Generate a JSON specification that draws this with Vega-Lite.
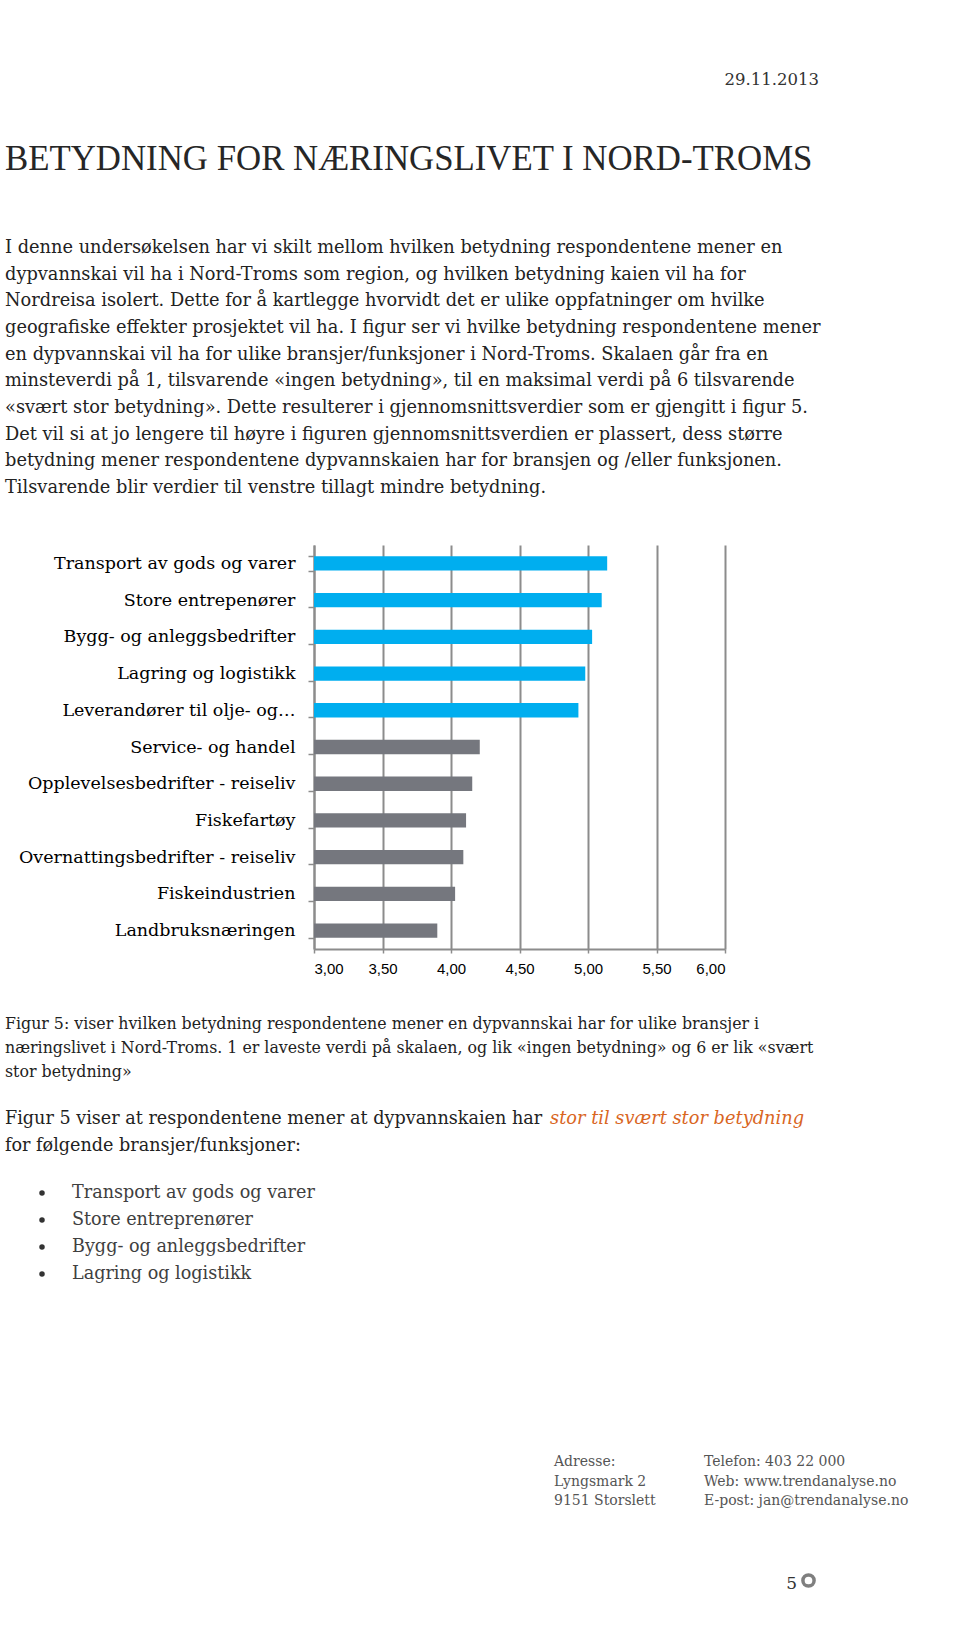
{
  "$schema": "https://vega.github.io/schema/vega-lite/v6.json",
  "background": "white",
  "padding": 0,
  "spacing": 0,
  "config": {"view": {"stroke": null}, "font": "DejaVu Serif"},
  "vconcat": [
    {
      "width": 646,
      "height": 200,
      "data": {"values": [
        {"felt": "dato", "tekst": "29.11.2013"},
        {"felt": "tittel", "tekst": "BETYDNING FOR NÆRINGSLIVET I NORD-TROMS"}
      ]},
      "encoding": {
        "x": {"field": "felt", "type": "nominal", "axis": null, "scale": {"type": "point", "domain": ["tittel", "dato"], "range": [-309, 505], "padding": 0}},
        "y": {"field": "felt", "type": "nominal", "axis": null, "scale": {"type": "point", "domain": ["dato", "tittel"], "range": [80, 160], "padding": 0}},
        "text": {"field": "tekst"}
      },
      "layer": [
        {"transform": [{"filter": "datum.felt === 'dato'"}],
         "mark": {"type": "text", "align": "right", "baseline": "middle", "font": "DejaVu Serif", "fontSize": 16.5, "color": "#333333"}},
        {"transform": [{"filter": "datum.felt === 'tittel'"}],
         "mark": {"type": "text", "align": "left", "baseline": "middle", "font": "Liberation Serif", "fontSize": 34.8, "color": "#262626"}}
      ]
    },
    {
      "width": 646,
      "height": 336,
      "data": {"values": [
        {"linje": 1, "blokk": "ingress", "tekst": "I denne undersøkelsen har vi skilt mellom hvilken betydning respondentene mener en"},
        {"linje": 2, "blokk": "ingress", "tekst": "dypvannskai vil ha i Nord-Troms som region, og hvilken betydning kaien vil ha for"},
        {"linje": 3, "blokk": "ingress", "tekst": "Nordreisa isolert. Dette for å kartlegge hvorvidt det er ulike oppfatninger om hvilke"},
        {"linje": 4, "blokk": "ingress", "tekst": "geografiske effekter prosjektet vil ha. I figur ser vi hvilke betydning respondentene mener"},
        {"linje": 5, "blokk": "ingress", "tekst": "en dypvannskai vil ha for ulike bransjer/funksjoner i Nord-Troms. Skalaen går fra en"},
        {"linje": 6, "blokk": "ingress", "tekst": "minsteverdi på 1, tilsvarende «ingen betydning», til en maksimal verdi på 6 tilsvarende"},
        {"linje": 7, "blokk": "ingress", "tekst": "«svært stor betydning». Dette resulterer i gjennomsnittsverdier som er gjengitt i figur 5."},
        {"linje": 8, "blokk": "ingress", "tekst": "Det vil si at jo lengere til høyre i figuren gjennomsnittsverdien er plassert, dess større"},
        {"linje": 9, "blokk": "ingress", "tekst": "betydning mener respondentene dypvannskaien har for bransjen og /eller funksjonen."},
        {"linje": 10, "blokk": "ingress", "tekst": "Tilsvarende blir verdier til venstre tillagt mindre betydning."}
      ]},
      "mark": {"type": "text", "align": "left", "baseline": "middle", "font": "DejaVu Serif", "fontSize": 17.8, "color": "#222222"},
      "encoding": {
        "x": {"field": "blokk", "type": "nominal", "axis": null, "scale": {"type": "point", "range": [-309, -309], "padding": 0}},
        "y": {"field": "linje", "type": "ordinal", "axis": null, "scale": {"type": "point", "range": [48, 288], "padding": 0}},
        "text": {"field": "tekst"}
      }
    },
    {
      "width": 411,
      "height": 404,
      "data": {"values": [
        {"bransje": "Transport av gods og varer", "snitt": 5.14, "gruppe": "høy"},
        {"bransje": "Store entrepenører", "snitt": 5.10, "gruppe": "høy"},
        {"bransje": "Bygg- og anleggsbedrifter", "snitt": 5.03, "gruppe": "høy"},
        {"bransje": "Lagring og logistikk", "snitt": 4.98, "gruppe": "høy"},
        {"bransje": "Leverandører til olje- og…", "snitt": 4.93, "gruppe": "høy"},
        {"bransje": "Service- og handel", "snitt": 4.21, "gruppe": "lavere"},
        {"bransje": "Opplevelsesbedrifter - reiseliv", "snitt": 4.155, "gruppe": "lavere"},
        {"bransje": "Fiskefartøy", "snitt": 4.11, "gruppe": "lavere"},
        {"bransje": "Overnattingsbedrifter - reiseliv", "snitt": 4.09, "gruppe": "lavere"},
        {"bransje": "Fiskeindustrien", "snitt": 4.03, "gruppe": "lavere"},
        {"bransje": "Landbruksnæringen", "snitt": 3.90, "gruppe": "lavere"}
      ]},
      "mark": {"type": "bar", "clip": true},
      "encoding": {
        "y": {"field": "bransje", "type": "nominal", "sort": null,
              "scale": {"paddingInner": 0.61, "paddingOuter": 0.305},
              "axis": {"title": null, "domainColor": "#8c8c8c", "domainWidth": 2, "tickBand": "extent", "tickSize": 6, "tickColor": "#8c8c8c", "tickWidth": 1.5,
                       "labelFont": "DejaVu Serif", "labelFontSize": 17.5, "labelColor": "#000000", "labelPadding": 13, "labelLimit": 320, "minExtent": 314, "maxExtent": 314}},
        "x": {"field": "snitt", "type": "quantitative",
              "scale": {"domain": [3, 6], "nice": false, "zero": false},
              "axis": {"title": null, "values": [3, 3.5, 4, 4.5, 5, 5.5, 6], "labelExpr": "replace(format(datum.value, '.2f'), '.', ',')",
                       "labelFont": "Liberation Sans", "labelFontSize": 15, "labelColor": "#000000", "labelPadding": 8,
                       "grid": true, "gridColor": "#8c8c8c", "gridWidth": 2, "domainColor": "#8c8c8c", "domainWidth": 2,
                       "tickSize": 4, "tickColor": "#8c8c8c", "tickWidth": 1.5}},
        "color": {"field": "gruppe", "type": "nominal", "legend": null, "scale": {"domain": ["høy", "lavere"], "range": ["#00AEEF", "#75777E"]}}
      }
    },
    {
      "width": 646,
      "height": 121,
      "data": {"values": [
        {"linje": 1, "blokk": "figurtekst", "tekst": "Figur 5: viser hvilken betydning respondentene mener en dypvannskai har for ulike bransjer i"},
        {"linje": 2, "blokk": "figurtekst", "tekst": "næringslivet i Nord-Troms. 1 er laveste verdi på skalaen, og lik «ingen betydning» og 6 er lik «svært"},
        {"linje": 3, "blokk": "figurtekst", "tekst": "stor betydning»"}
      ]},
      "mark": {"type": "text", "align": "left", "baseline": "middle", "font": "DejaVu Serif", "fontSize": 15.8, "color": "#222222"},
      "encoding": {
        "x": {"field": "blokk", "type": "nominal", "axis": null, "scale": {"type": "point", "range": [-309, -309], "padding": 0}},
        "y": {"field": "linje", "type": "ordinal", "axis": null, "scale": {"type": "point", "range": [48, 96], "padding": 0}},
        "text": {"field": "tekst"}
      }
    },
    {
      "width": 646,
      "height": 70,
      "data": {"values": [
        {"linje": 1, "del": "vanlig", "tekst": "Figur 5 viser at respondentene mener at dypvannskaien har"},
        {"linje": 1, "del": "uthevet", "tekst": "stor til svært stor betydning"},
        {"linje": 2, "del": "vanlig", "tekst": "for følgende bransjer/funksjoner:"}
      ]},
      "encoding": {
        "x": {"field": "del", "type": "nominal", "axis": null, "scale": {"type": "point", "domain": ["vanlig", "uthevet"], "range": [-309, 236], "padding": 0}},
        "y": {"field": "linje", "type": "ordinal", "axis": null, "scale": {"type": "point", "range": [22, 49], "padding": 0}},
        "text": {"field": "tekst"}
      },
      "layer": [
        {"transform": [{"filter": "datum.del === 'vanlig'"}],
         "mark": {"type": "text", "align": "left", "baseline": "middle", "font": "DejaVu Serif", "fontSize": 17.6, "color": "#222222"}},
        {"transform": [{"filter": "datum.del === 'uthevet'"}],
         "mark": {"type": "text", "align": "left", "baseline": "middle", "font": "DejaVu Serif", "fontStyle": "italic", "fontSize": 17.8, "color": "#D9661F"}}
      ]
    },
    {
      "width": 646,
      "height": 135,
      "data": {"values": [
        {"linje": 1, "blokk": "punkt", "tekst": "Transport av gods og varer"},
        {"linje": 2, "blokk": "punkt", "tekst": "Store entreprenører"},
        {"linje": 3, "blokk": "punkt", "tekst": "Bygg- og anleggsbedrifter"},
        {"linje": 4, "blokk": "punkt", "tekst": "Lagring og logistikk"}
      ]},
      "encoding": {
        "y": {"field": "linje", "type": "ordinal", "axis": null, "scale": {"type": "point", "range": [26, 107], "padding": 0}}
      },
      "layer": [
        {"mark": {"type": "point", "shape": "circle", "filled": true, "size": 30, "color": "#333333", "opacity": 1},
         "encoding": {"x": {"field": "blokk", "type": "nominal", "axis": null, "scale": {"type": "point", "range": [-272, -272], "padding": 0}}}},
        {"mark": {"type": "text", "align": "left", "baseline": "middle", "font": "DejaVu Serif", "fontSize": 17.6, "color": "#404040"},
         "encoding": {"x": {"field": "blokk", "type": "nominal", "axis": null, "scale": {"type": "point", "range": [-242, -242], "padding": 0}}, "text": {"field": "tekst"}}}
      ],
      "resolve": {"scale": {"x": "independent"}}
    },
    {
      "width": 646,
      "height": 240,
      "data": {"values": [
        {"linje": 1, "kolonne": "adresse", "tekst": "Adresse:"},
        {"linje": 2, "kolonne": "adresse", "tekst": "Lyngsmark 2"},
        {"linje": 3, "kolonne": "adresse", "tekst": "9151 Storslett"},
        {"linje": 1, "kolonne": "kontakt", "tekst": "Telefon: 403 22 000"},
        {"linje": 2, "kolonne": "kontakt", "tekst": "Web: www.trendanalyse.no"},
        {"linje": 3, "kolonne": "kontakt", "tekst": "E-post: jan@trendanalyse.no"}
      ]},
      "mark": {"type": "text", "align": "left", "baseline": "middle", "font": "DejaVu Serif", "fontSize": 14, "color": "#555555"},
      "encoding": {
        "x": {"field": "kolonne", "type": "nominal", "axis": null, "scale": {"type": "point", "domain": ["adresse", "kontakt"], "range": [240, 390], "padding": 0}},
        "y": {"field": "linje", "type": "ordinal", "axis": null, "scale": {"type": "point", "range": [160, 199], "padding": 0}},
        "text": {"field": "tekst"}
      }
    },
    {
      "width": 646,
      "height": 98,
      "data": {"values": [{"side": "5"}]},
      "layer": [
        {"mark": {"type": "text", "align": "right", "baseline": "middle", "font": "DejaVu Serif", "fontSize": 17, "color": "#333333"},
         "encoding": {
           "x": {"field": "side", "type": "nominal", "axis": null, "scale": {"type": "point", "range": [483, 483], "padding": 0}},
           "y": {"field": "side", "type": "nominal", "axis": null, "scale": {"type": "point", "range": [42, 42], "padding": 0}},
           "text": {"field": "side"}}},
        {"mark": {"type": "point", "shape": "circle", "filled": false, "size": 125, "strokeWidth": 3.5, "color": "#7f7f7f", "opacity": 1},
         "encoding": {
           "x": {"field": "side", "type": "nominal", "axis": null, "scale": {"type": "point", "range": [494.5, 494.5], "padding": 0}},
           "y": {"field": "side", "type": "nominal", "axis": null, "scale": {"type": "point", "range": [38.5, 38.5], "padding": 0}}}}
      ],
      "resolve": {"scale": {"x": "independent", "y": "independent"}}
    }
  ]
}
